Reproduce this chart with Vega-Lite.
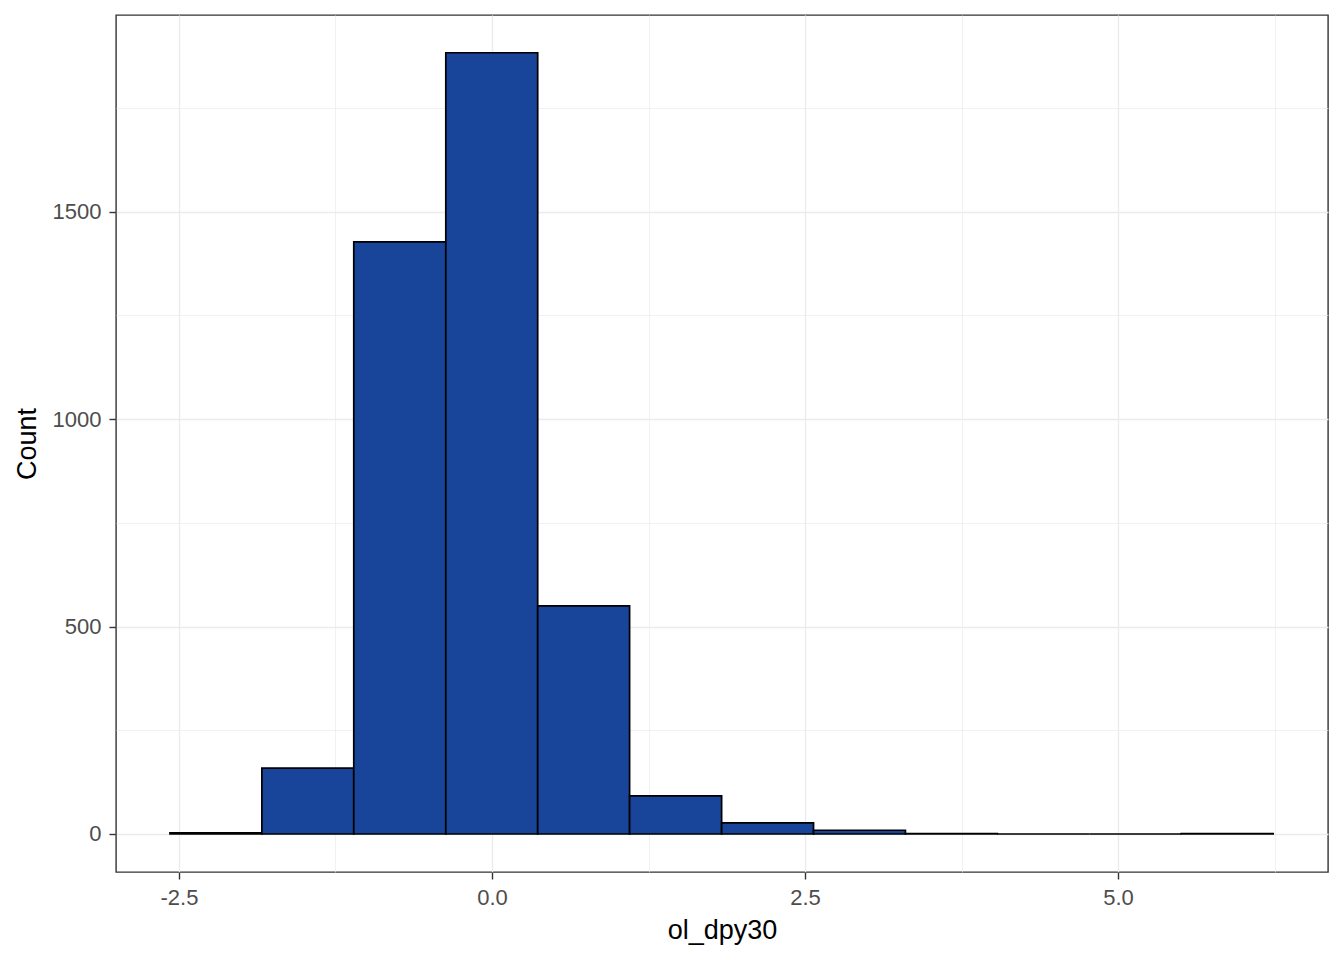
{
  "$schema": "https://vega.github.io/schema/vega-lite/v6.json",
  "width": 1212,
  "height": 857,
  "autosize": "none",
  "padding": {"left": 116, "top": 15, "right": 16, "bottom": 88},
  "background": "white",
  "config": {
    "view": {"stroke": "#333333", "strokeWidth": 1.4},
    "axis": {
      "domain": false,
      "labelFont": "Liberation Sans",
      "labelFontSize": 22,
      "labelColor": "#4D4D4D",
      "titleFont": "Liberation Sans",
      "titleFontSize": 27,
      "titleFontWeight": "normal",
      "titleColor": "#000000",
      "tickColor": "#333333",
      "tickSize": 7,
      "tickWidth": 1.4,
      "gridColor": "#EBEBEB"
    }
  },
  "data": {
    "values": [
      {"start": -2.572, "end": -1.838, "count": 3},
      {"start": -1.838, "end": -1.104, "count": 159},
      {"start": -1.104, "end": -0.369, "count": 1427},
      {"start": -0.369, "end": 0.365, "count": 1883},
      {"start": 0.365, "end": 1.099, "count": 550},
      {"start": 1.099, "end": 1.834, "count": 92},
      {"start": 1.834, "end": 2.568, "count": 27},
      {"start": 2.568, "end": 3.302, "count": 9},
      {"start": 3.302, "end": 4.036, "count": 1},
      {"start": 4.036, "end": 4.770, "count": 0},
      {"start": 4.770, "end": 5.505, "count": 0},
      {"start": 5.505, "end": 6.239, "count": 1}
    ]
  },
  "mark": {"type": "bar", "fill": "#18449A", "stroke": "#000000", "strokeWidth": 1.7},
  "encoding": {
    "x": {
      "field": "start",
      "type": "quantitative",
      "title": "ol_dpy30",
      "scale": {"domain": [-3.003, 6.677], "nice": false, "zero": false},
      "axis": {
        "values": [-2.5, -1.25, 0, 1.25, 2.5, 3.75, 5, 6.25],
        "labelExpr": "datum.value % 2.5 !== 0 ? '' : (datum.value < 0 ? '-' + format(-datum.value, '.1f') : format(datum.value, '.1f'))",
        "tickOpacity": {"condition": {"test": "datum.value % 2.5 !== 0", "value": 0}, "value": 1},
        "gridWidth": {"condition": {"test": "datum.value % 2.5 !== 0", "value": 0.7}, "value": 1.3},
        "labelPadding": 8,
        "titlePadding": 9,
        "labelFlush": false,
        "labelOverlap": false
      }
    },
    "x2": {"field": "end"},
    "y": {
      "field": "count",
      "type": "quantitative",
      "title": "Count",
      "scale": {"domain": [-91.6, 1974], "nice": false, "zero": false},
      "axis": {
        "values": [0, 250, 500, 750, 1000, 1250, 1500, 1750],
        "labelExpr": "datum.value % 500 !== 0 ? '' : format(datum.value, 'd')",
        "tickOpacity": {"condition": {"test": "datum.value % 500 !== 0", "value": 0}, "value": 1},
        "gridWidth": {"condition": {"test": "datum.value % 500 !== 0", "value": 0.7}, "value": 1.3},
        "labelPadding": 8,
        "titlePadding": 11,
        "labelFlush": false,
        "labelOverlap": false
      }
    },
    "y2": {"datum": 0}
  }
}
